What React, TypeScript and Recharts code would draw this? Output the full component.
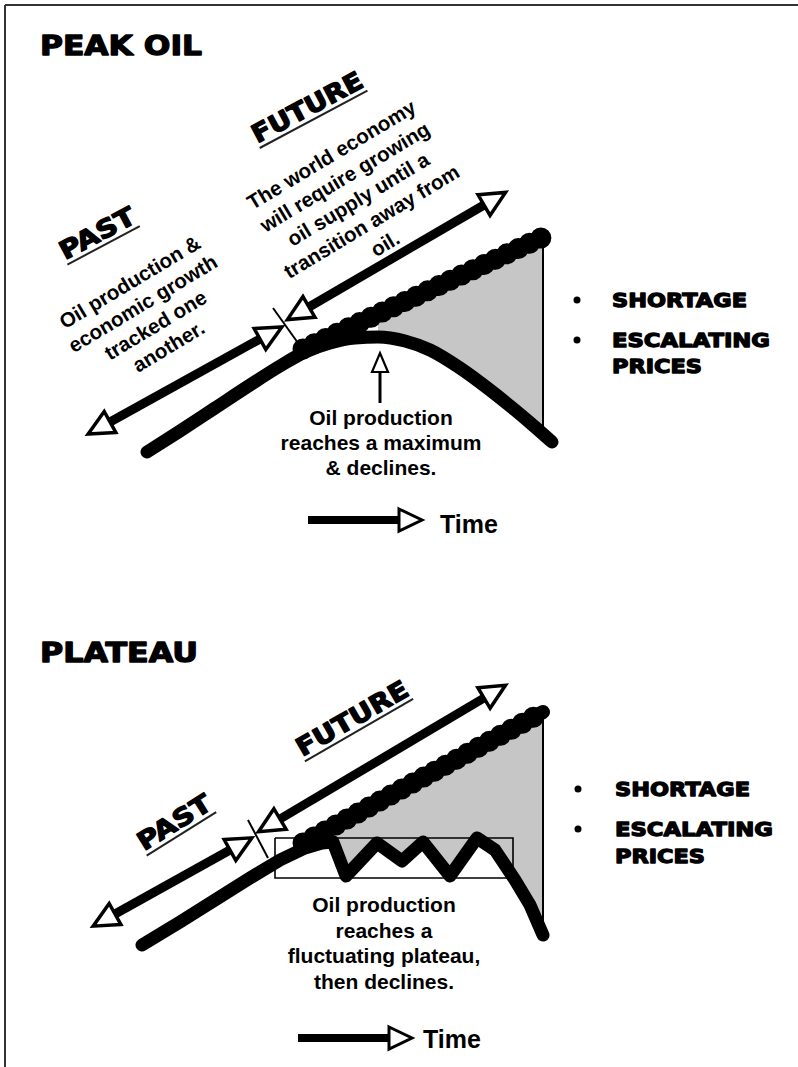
import React from 'react'
import { ComposedChart, Line, Area, XAxis, YAxis, ReferenceDot } from 'recharts'

const W = 798
const H = 1067

type Pt = { x: number; y: number }

// ---- top panel: peak oil ----
const peakProduction: Pt[] = [
  { x: 147, y: 452 }, { x: 180, y: 431 }, { x: 215, y: 408 }, { x: 250, y: 385 },
  { x: 280, y: 366 }, { x: 305, y: 352 }, { x: 330, y: 343 }, { x: 355, y: 338 },
  { x: 378, y: 337 }, { x: 405, y: 341 }, { x: 430, y: 350 }, { x: 460, y: 368 },
  { x: 490, y: 390 }, { x: 515, y: 410 }, { x: 535, y: 427 }, { x: 552, y: 442 },
]
const peakDemand: Pt[] = [{ x: 303, y: 349 }, { x: 543, y: 237 }]
const peakShortfall = [
  { x: 378, y: [337, 314] }, { x: 405, y: [341, 301] }, { x: 430, y: [350, 289] },
  { x: 460, y: [368, 276] }, { x: 490, y: [390, 262] }, { x: 515, y: [410, 250] },
  { x: 543, y: [434, 237] },
]
const peakEdge: Pt[] = [{ x: 543, y: 237 }, { x: 543, y: 434 }]
const peakFuture: Pt[] = [{ x: 309, y: 307 }, { x: 484, y: 205 }]
const peakPast: Pt[] = [{ x: 110, y: 422 }, { x: 260, y: 339 }]
const peakTick: Pt[] = [{ x: 273, y: 308 }, { x: 303, y: 350 }]
const peakMarker: Pt[] = [{ x: 380, y: 403 }, { x: 380, y: 372 }]
const peakTime: Pt[] = [{ x: 308, y: 520 }, { x: 399, y: 520 }]

// ---- bottom panel: plateau ----
const plateauProduction: Pt[] = [
  { x: 142, y: 945 }, { x: 180, y: 922 }, { x: 215, y: 900 }, { x: 250, y: 878 },
  { x: 280, y: 860 }, { x: 305, y: 848 }, { x: 322, y: 843 }, { x: 333, y: 842 },
  { x: 346, y: 876 }, { x: 377, y: 843 }, { x: 402, y: 861 }, { x: 423, y: 842 },
  { x: 450, y: 876 }, { x: 477, y: 838 }, { x: 495, y: 850 }, { x: 515, y: 880 },
  { x: 530, y: 905 }, { x: 543, y: 935 },
]
const plateauDemand: Pt[] = [{ x: 303, y: 843 }, { x: 543, y: 712 }]
const plateauShortfall = [
  { x: 333, y: [842, 827] }, { x: 346, y: [876, 820] }, { x: 377, y: [843, 803] },
  { x: 402, y: [861, 789] }, { x: 423, y: [842, 777] }, { x: 450, y: [876, 762] },
  { x: 477, y: [838, 748] }, { x: 495, y: [850, 738] }, { x: 515, y: [880, 727] },
  { x: 530, y: [905, 719] }, { x: 543, y: [935, 712] },
]
const plateauEdge: Pt[] = [{ x: 543, y: 712 }, { x: 543, y: 935 }]
const plateauBox: Pt[] = [
  { x: 275, y: 838 }, { x: 513, y: 838 }, { x: 513, y: 878 }, { x: 275, y: 878 }, { x: 275, y: 838 },
]
const plateauFuture: Pt[] = [{ x: 280, y: 819 }, { x: 484, y: 698 }]
const plateauPast: Pt[] = [{ x: 115, y: 914 }, { x: 230, y: 850 }]
const plateauTick: Pt[] = [{ x: 248, y: 820 }, { x: 268, y: 858 }]
const plateauTime: Pt[] = [{ x: 298, y: 1038 }, { x: 389, y: 1038 }]

const frameTop: Pt[] = [{ x: 5, y: 5 }, { x: 798, y: 5 }]
const frameLeft: Pt[] = [{ x: 5, y: 5 }, { x: 5, y: 1067 }]

// ---- texts ----
const pastNotes = ['Oil production &', 'economic growth', 'tracked one', 'another.']
const futureNotes = [
  'The world economy', 'will require growing', 'oil supply until a', 'transition away from', 'oil.',
]
const peakCaption = ['Oil production', 'reaches a maximum', '& declines.']
const plateauCaption = ['Oil production', 'reaches a', 'fluctuating plateau,', 'then declines.']
const impacts = ['SHORTAGE', 'ESCALATING', 'PRICES']

const HEAVY = '"DejaVu Sans", Arial, sans-serif'
const PLAIN = '"Liberation Sans", Arial, sans-serif'

const headDot = (pts: Pt[], ends: number[], len: number, half: number, sw: number) => (p: any) => {
  const { cx, cy, index } = p
  if (!ends.includes(index) || cx == null) return <g key={`h-${index}`} />
  const me = pts[index]
  const other = pts[index === 0 ? 1 : index - 1]
  const a = (Math.atan2(me.y - other.y, me.x - other.x) * 180) / Math.PI
  return (
    <polygon
      key={`h-${index}`}
      points={`0,${-half} ${len},0 0,${half}`}
      transform={`translate(${cx},${cy}) rotate(${a})`}
      fill="#fff"
      stroke="#000"
      strokeWidth={sw}
    />
  )
}

interface BlockOpts {
  angle?: number
  size: number
  gap?: number
  heavy?: boolean
  anchor?: 'start' | 'middle'
  lengths?: number[]
  underline?: boolean
}

const textBlock = (lines: string[], o: BlockOpts) => (p: any) => {
  const gap = o.gap ?? o.size * 1.2
  return (
    <g transform={`translate(${p.cx},${p.cy}) rotate(${o.angle ?? 0})`}>
      {lines.map((t, i) => {
        const y = (i - (lines.length - 1) / 2) * gap + o.size * 0.36
        const len = o.lengths ? o.lengths[i] : undefined
        const x0 = o.anchor === 'start' ? 0 : -(len ?? 0) / 2
        return (
          <g key={i}>
            <text
              x={0}
              y={y}
              textAnchor={o.anchor ?? 'middle'}
              fontFamily={o.heavy ? HEAVY : PLAIN}
              fontWeight="bold"
              fontSize={o.size}
              fill="#000"
              stroke={o.heavy ? '#000' : 'none'}
              strokeWidth={o.heavy ? 1.3 : 0}
              strokeLinejoin="round"
              textLength={len}
              lengthAdjust={len ? 'spacingAndGlyphs' : undefined}
            >
              {t}
            </text>
            {o.underline && len ? (
              <line x1={x0} x2={x0 + len} y1={y + 5} y2={y + 5} stroke="#222" strokeWidth={2} />
            ) : null}
          </g>
        )
      })}
    </g>
  )
}

const thick = (data: Pt[], width: number, type: any = 'linear', extra: any = {}) => (
  <Line
    data={data}
    dataKey="y"
    type={type}
    stroke="#000"
    strokeWidth={width}
    strokeLinecap="round"
    strokeLinejoin="round"
    dot={false}
    activeDot={false}
    legendType="none"
    isAnimationActive={false}
    {...extra}
  />
)

const arrow = (data: Pt[], width: number, ends: number[], len: number, half: number, sw: number) => (
  <Line
    data={data}
    dataKey="y"
    type="linear"
    stroke="#000"
    strokeWidth={width}
    dot={headDot(data, ends, len, half, sw)}
    activeDot={false}
    legendType="none"
    isAnimationActive={false}
  />
)

const note = (x: number, y: number, shape: any) => (
  <ReferenceDot x={x} y={y} r={0} shape={shape} ifOverflow="visible" />
)

const bullet = (x: number, y: number) => (
  <ReferenceDot x={x} y={y} r={3.5} fill="#000" stroke="none" ifOverflow="visible" />
)

const App = () => (
  <div style={{ position: 'absolute', left: 0, top: 0, width: W, height: H, background: '#fff' }}>
    <ComposedChart width={W} height={H} margin={{ top: 0, right: 0, bottom: 0, left: 0 }}>
      <XAxis type="number" dataKey="x" domain={[0, W]} hide allowDataOverflow />
      <YAxis type="number" domain={[0, H]} reversed hide allowDataOverflow />

      {thick(frameTop, 2, 'linear', { stroke: '#333', strokeLinecap: 'butt' })}
      {thick(frameLeft, 2, 'linear', { stroke: '#333', strokeLinecap: 'butt' })}

      {/* peak oil */}
      <Area data={peakShortfall} dataKey="y" type="monotone" fill="#c6c6c6" fillOpacity={1} stroke="none" isAnimationActive={false} legendType="none" activeDot={false} />
      {thick(peakEdge, 2, 'linear', { strokeLinecap: 'butt' })}
      {thick(peakProduction, 13, 'monotone')}
      {thick(peakDemand, 14)}
      {thick(peakDemand, 21, 'linear', { strokeDasharray: '0 12.5' })}
      {thick(peakTick, 2, 'linear', { strokeLinecap: 'butt' })}
      {arrow(peakFuture, 9, [0, 1], 25, 12, 3.5)}
      {arrow(peakPast, 9, [0, 1], 25, 12, 3.5)}
      {arrow(peakMarker, 3, [1], 19, 8, 2.2)}
      {arrow(peakTime, 8, [1], 23, 11, 3)}

      {/* plateau */}
      <Area data={plateauShortfall} dataKey="y" type="linear" fill="#c6c6c6" fillOpacity={1} stroke="none" isAnimationActive={false} legendType="none" activeDot={false} />
      {thick(plateauEdge, 2, 'linear', { strokeLinecap: 'butt' })}
      {thick(plateauBox, 1.6, 'linear', { strokeLinecap: 'butt', strokeLinejoin: 'miter' })}
      {thick(plateauProduction, 13, 'linear')}
      {thick(plateauDemand, 14)}
      {thick(plateauDemand, 21, 'linear', { strokeDasharray: '0 12.5' })}
      {thick(plateauTick, 2, 'linear', { strokeLinecap: 'butt' })}
      {arrow(plateauFuture, 9, [0, 1], 25, 12, 3.5)}
      {arrow(plateauPast, 9, [0, 1], 25, 12, 3.5)}
      {arrow(plateauTime, 8, [1], 23, 11, 3)}

      {/* labels, peak oil */}
      {note(40, 45, textBlock(['PEAK OIL'], { size: 27, heavy: true, anchor: 'start', lengths: [162] }))}
      {note(307, 107, textBlock(['FUTURE'], { size: 25, heavy: true, angle: -28, lengths: [122], underline: true }))}
      {note(97, 233, textBlock(['PAST'], { size: 25, heavy: true, angle: -28, lengths: [82], underline: true }))}
      {note(149, 314, textBlock(pastNotes, { size: 20.5, gap: 25, angle: -31 }))}
      {note(358, 199, textBlock(futureNotes, { size: 20.5, gap: 26, angle: -31 }))}
      {note(381, 442, textBlock(peakCaption, { size: 21, gap: 25 }))}
      {note(440, 524, textBlock(['Time'], { size: 25, anchor: 'start' }))}
      {bullet(577, 300)}
      {bullet(577, 340)}
      {note(612, 300, textBlock([impacts[0]], { size: 20, heavy: true, anchor: 'start', lengths: [135] }))}
      {note(612, 353, textBlock(impacts.slice(1), { size: 20, heavy: true, anchor: 'start', gap: 26, lengths: [158, 90] }))}

      {/* labels, plateau */}
      {note(40, 652, textBlock(['PLATEAU'], { size: 27, heavy: true, anchor: 'start', lengths: [158] }))}
      {note(352, 718, textBlock(['FUTURE'], { size: 25, heavy: true, angle: -30, lengths: [125], underline: true }))}
      {note(174, 822, textBlock(['PAST'], { size: 25, heavy: true, angle: -32, lengths: [82], underline: true }))}
      {note(384, 943, textBlock(plateauCaption, { size: 21, gap: 25.7 }))}
      {note(423, 1039, textBlock(['Time'], { size: 25, anchor: 'start' }))}
      {bullet(578, 789)}
      {bullet(578, 829)}
      {note(615, 789, textBlock([impacts[0]], { size: 20, heavy: true, anchor: 'start', lengths: [135] }))}
      {note(615, 842, textBlock(impacts.slice(1), { size: 20, heavy: true, anchor: 'start', gap: 27, lengths: [158, 90] }))}
    </ComposedChart>
  </div>
)

export default App
